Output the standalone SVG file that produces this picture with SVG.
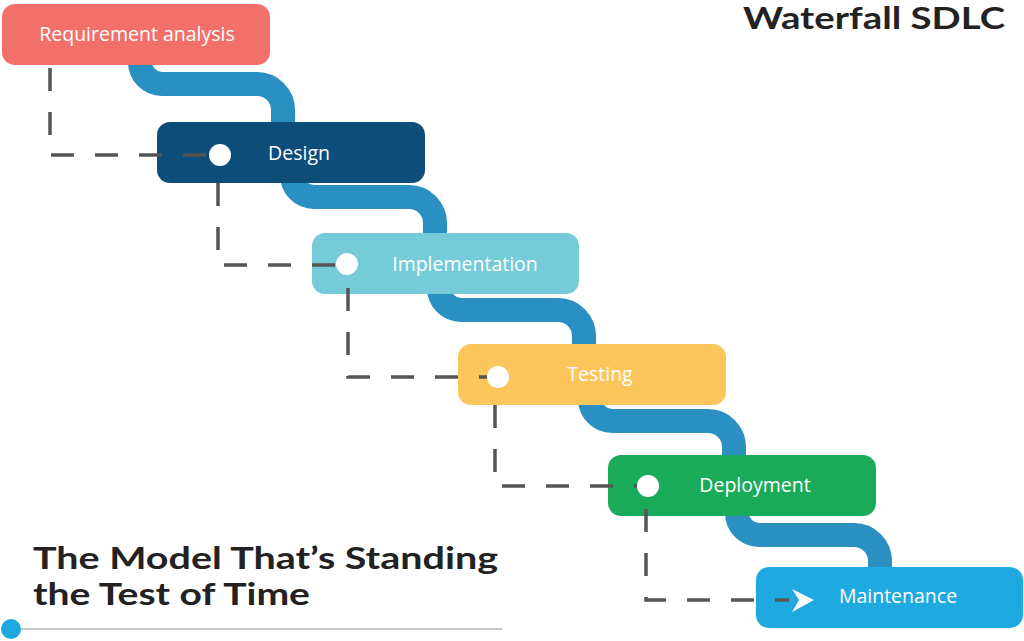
<svg xmlns="http://www.w3.org/2000/svg" width="1024" height="641" viewBox="0 0 1024 641">
<style>
.pipe{fill:none;stroke:#2A8FC1;stroke-width:24}
.dash{fill:none;stroke:#555;stroke-width:3.5;stroke-dasharray:23 21}
.lbl{font-family:"Open Sans","Liberation Sans",sans-serif;font-size:19.5px;fill:#fff;text-anchor:middle}
.dot{fill:#fff}
.title{font-family:"Lato","Liberation Sans",sans-serif;font-weight:700;fill:#222}
</style>
<rect width="1024" height="641" fill="#fff"/>
<g id="pipes">
<path class="pipe" d="M140,55 V62 A22,22 0 0 0 162,84 H257 A26,26 0 0 1 283,110 V130"/>
<path class="pipe" d="M292,172 V175 A22,22 0 0 0 314,197 H409 A26,26 0 0 1 435,223 V240"/>
<path class="pipe" d="M439,285 V288 A22,22 0 0 0 461,310 H558 A26,26 0 0 1 584,336 V350"/>
<path class="pipe" d="M590,396 V399 A22,22 0 0 0 612,421 H708 A26,26 0 0 1 734,447 V462"/>
<path class="pipe" d="M737,506 V513 A22,22 0 0 0 759,535 H854 A26,26 0 0 1 880,561 V572"/>
</g>
<g id="n-requirement">
<rect x="2" y="4" width="268" height="61" rx="13" fill="#F1706A"/>
<text class="lbl" x="137" y="41">Requirement analysis</text>
</g>
<g id="n-design">
<rect x="157" y="122" width="268" height="61" rx="13" fill="#0D4D7A"/>
<text class="lbl" x="299" y="160">Design</text>
</g>
<g id="n-implementation">
<rect x="312" y="233" width="267" height="61" rx="13" fill="#75CCD8"/>
<text class="lbl" x="465" y="271">Implementation</text>
</g>
<g id="n-testing">
<rect x="458" y="344" width="268" height="61" rx="13" fill="#FCC65C"/>
<text class="lbl" x="600" y="381">Testing</text>
</g>
<g id="n-deployment">
<rect x="608" y="455" width="268" height="61" rx="13" fill="#1AAB5A"/>
<text class="lbl" x="755" y="492">Deployment</text>
</g>
<g id="n-maintenance">
<rect x="756" y="567" width="267" height="61" rx="13" fill="#1FA9E1"/>
<text class="lbl" x="898" y="603">Maintenance</text>
</g>
<g id="connectors">
<path class="dash" d="M50,68 V155 H209"/>
<path class="dash" d="M218,183 V265 H336"/>
<path class="dash" d="M348,288 V377 H487"/>
<path class="dash" d="M495,405 V486 H637"/>
<path class="dash" d="M646,509 V600 H789"/>
<circle class="dot" cx="220" cy="155" r="11"/>
<circle class="dot" cx="347" cy="264" r="11"/>
<circle class="dot" cx="498" cy="377" r="11"/>
<circle class="dot" cx="648" cy="486" r="11"/>
<polygon class="dot" points="792,589 814,600 792,612 799,600"/>
</g>
<g id="titles">
<text class="title" x="743" y="29" font-size="31" textLength="262" lengthAdjust="spacingAndGlyphs">Waterfall SDLC</text>
<text class="title" x="33" y="569" font-size="31" textLength="465" lengthAdjust="spacingAndGlyphs">The Model That’s Standing</text>
<text class="title" x="33" y="605" font-size="31" textLength="277" lengthAdjust="spacingAndGlyphs">the Test of Time</text>
<line x1="10" y1="629" x2="502" y2="629" stroke="#B5B5B5" stroke-width="1.5"/>
<circle cx="11" cy="629" r="10" fill="#1FA8E0"/>
</g>
</svg>
